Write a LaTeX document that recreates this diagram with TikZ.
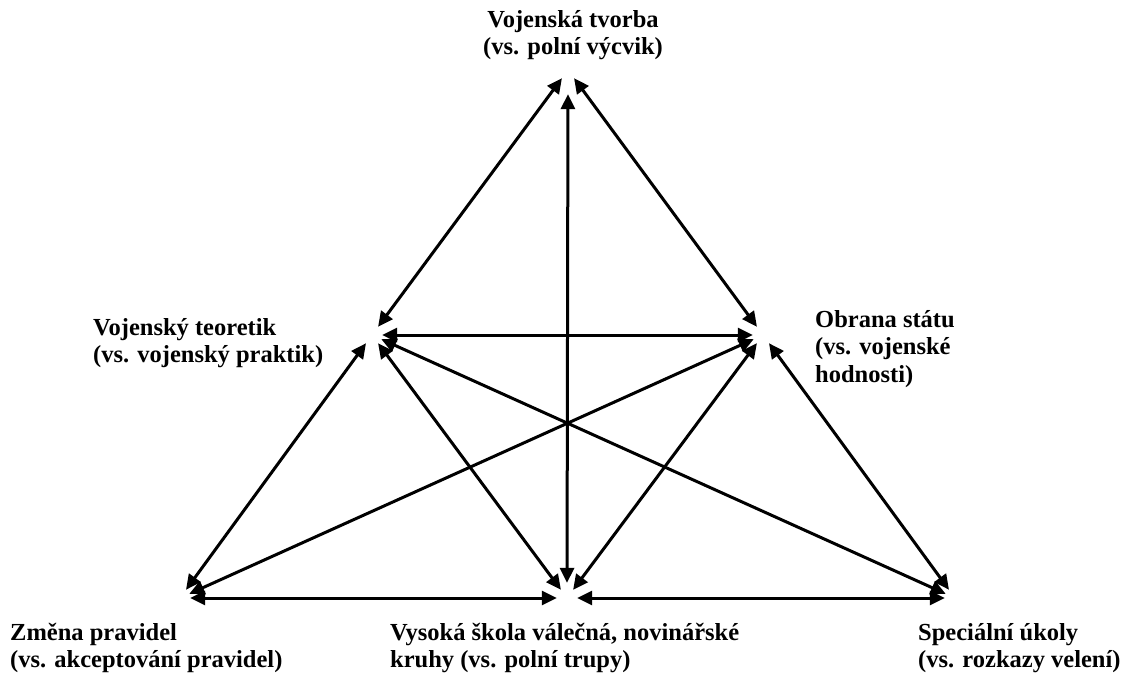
\documentclass[tikz,border=0pt]{standalone}
\usepackage{fontspec}
\setmainfont{Liberation Serif}
\usetikzlibrary{arrows.meta}

\begin{document}
\begin{tikzpicture}[x=1pt, y=-1pt,
    every node/.style={font=\fontsize{24.5}{27.5}\selectfont\bfseries, inner sep=0pt}]

    \tikzstyle{vertex}=[circle, minimum size=20pt, inner sep=0pt]
    \tikzstyle{arrow}=[line width=3pt, {Triangle[length=15pt, width=14pt]}-{Triangle[length=15pt, width=14pt]}]
    \tikzstyle{caption}=[align=left, anchor=north west]

    \useasboundingbox (0,0) rectangle (1126,674);

    \node[vertex] (T) at (568,70) {};
    \node[vertex] (L) at (372,335) {};
    \node[vertex] (R) at (763,335) {};
    \node[vertex] (BL) at (180,598) {};
    \node[vertex] (BM) at (567,598) {};
    \node[vertex] (BR) at (955,598) {};

    \draw[arrow] (T) -- (L);
    \draw[arrow] (T) -- (R);
    \draw[arrow, shorten <=14pt, shorten >=5pt] (T) -- (BM);
    \draw[arrow] (L) -- (R);
    \draw[arrow] (L) -- (BL);
    \draw[arrow] (L) -- (BM);
    \draw[arrow] (L) -- (BR);
    \draw[arrow] (R) -- (BR);
    \draw[arrow] (R) -- (BM);
    \draw[arrow] (R) -- (BL);
    \draw[arrow] (BL) -- (BM);
    \draw[arrow] (BM) -- (BR);

    \node[align=center, anchor=north] (Ttext) at (573,10) {Vojenská tvorba\\(vs. polní výcvik)};
    \node[caption] (Ltext) at (93,318) {Vojenský teoretik\\(vs. vojenský praktik)};
    \node[caption] (Rtext) at (815,310) {Obrana státu\\(vs. vojenské\\hodnosti)};
    \node[caption] (BLtext) at (10,623) {Změna pravidel\\(vs. akceptování pravidel)};
    \node[caption] (BMtext) at (390,623) {Vysoká škola válečná, novinářské\\kruhy (vs. polní trupy)};
    \node[caption] (BRtext) at (918,623) {Speciální úkoly\\(vs. rozkazy velení)};

\end{tikzpicture}
\end{document}
